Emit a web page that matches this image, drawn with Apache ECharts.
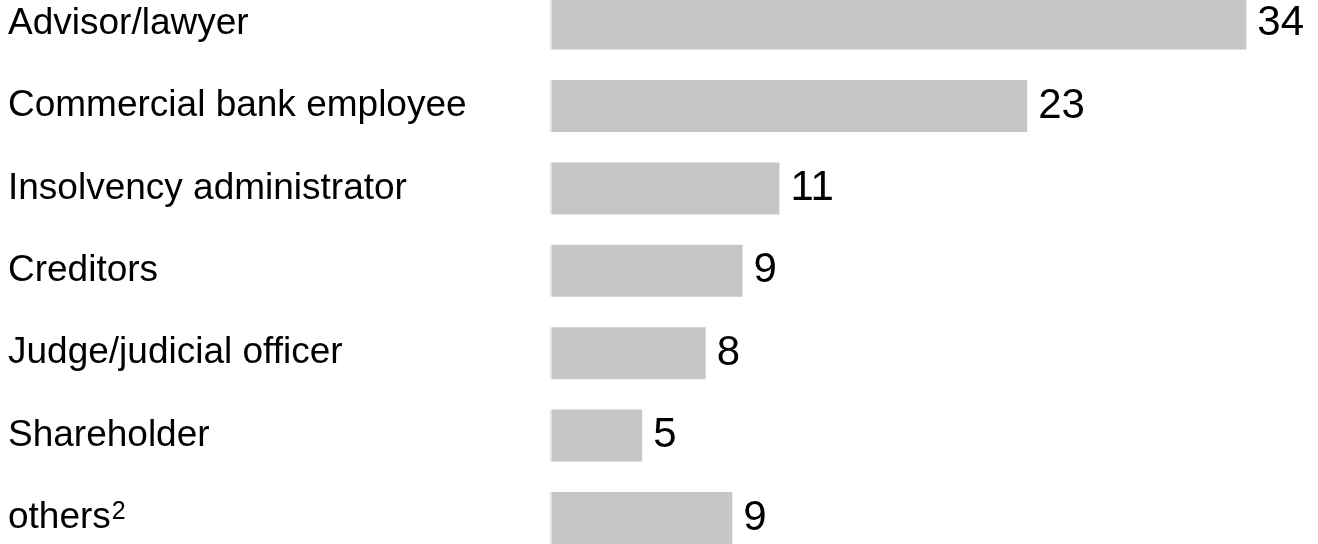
<!DOCTYPE html>
<html>
<head>
<meta charset="utf-8">
<script src="https://cdn.jsdelivr.net/npm/echarts@6/dist/echarts.min.js"></script>
<style>
  html, body { margin: 0; padding: 0; background: #fff; }
  #chart { width: 1318px; height: 544px; }
</style>
</head>
<body>
<div id="chart"></div>
<script>
// categories top to bottom, footnote marks (labels are rounded)
const categories = ['Advisor/lawyer', 'Commercial bank employee', 'Insolvency administrator', 'Creditors', 'Judge/judicial officer', 'Shareholder', 'others']
const footnotes = ['', '', '', '', '', '', '2']
const values = [34.0, 23.3, 11.2, 9.4, 7.6, 4.5, 8.9]

const chart = echarts.init(document.getElementById('chart'))

// light strip on the left edge of every bar
const barColor = {
  type: 'linear', x: 550, y: 0, x2: 553, y2: 0, global: true,
  colorStops: [
    { offset: 0, color: '#e2e2e2' },
    { offset: 0.66, color: '#e2e2e2' },
    { offset: 0.67, color: '#c6c6c6' },
    { offset: 1, color: '#c6c6c6' }
  ]
}

chart.setOption({
  animation: false,
  grid: { left: 550, right: 0, top: -17.6, height: 576.8, containLabel: false, outerBoundsMode: 'none' },
  xAxis: {
    type: 'value', min: 0, max: 37.5, show: false
  },
  yAxis: {
    type: 'category',
    inverse: true,
    data: categories,
    axisLine: { show: false },
    axisTick: { show: false },
    axisLabel: {
      align: 'left',
      margin: 542,
      color: '#000',
      fontFamily: 'Liberation Sans, Arial, sans-serif',
      fontSize: 37,
      formatter: (v, i) => footnotes[i] ? v + '{sup|' + footnotes[i] + '}' : v,
      rich: {
        sup: { fontSize: 25, color: '#000', fontFamily: 'Liberation Sans, Arial, sans-serif', verticalAlign: 'top', padding: [0, 0, 12, 1] }
      }
    }
  },
  series: [{
    type: 'bar',
    data: values,
    barWidth: 52,
    itemStyle: { color: barColor },
    label: {
      show: true,
      position: 'right',
      distance: 11,
      color: '#000',
      fontFamily: 'Liberation Sans, Arial, sans-serif',
      fontSize: 42,
      formatter: p => Math.round(p.value)
    }
  }]
})
</script>
</body>
</html>
